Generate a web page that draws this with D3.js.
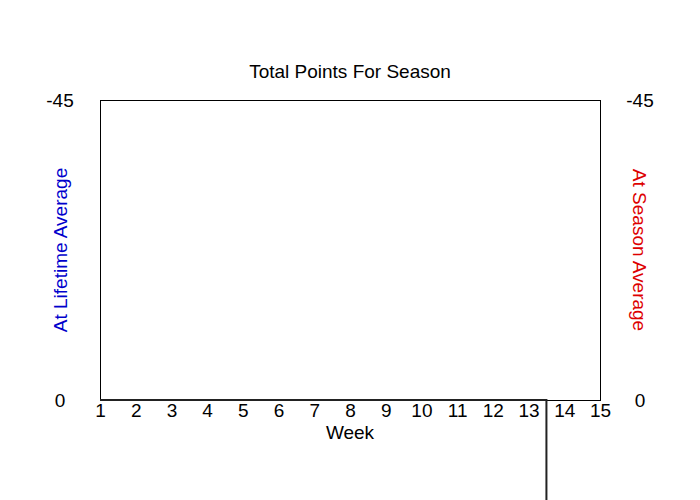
<!DOCTYPE html>
<html>
<head>
<meta charset="utf-8">
<script src="https://cdn.jsdelivr.net/npm/d3@7"></script>
<style>
  body { margin: 0; background: #fff; }
  text { font-family: "Liberation Sans", Arial, sans-serif; }
</style>
</head>
<body>
<script>
// weeks and the season line values
var weeks = [1, 2, 3, 4, 5, 6, 7, 8, 9, 10, 11, 12, 13, 14];
var seasonPoints = [0, 0, 0, 0, 0, 0, 0, 0, 0, 0, 0, 0, 0, 30];
var xTicks = [1, 2, 3, 4, 5, 6, 7, 8, 9, 10, 11, 12, 13, 14, 15];
var yTicks = [-45, 0];

var width = 700, height = 500;
var plotLeft = 100, plotRight = 600, plotTop = 100, plotBottom = 400;
var fontSize = "19px";

var svg = d3.select("body").append("svg")
    .attr("width", width)
    .attr("height", height);

var x = d3.scaleLinear().domain([1, 15]).range([plotLeft, plotRight]);
var y = d3.scaleLinear().domain([-45, 0]).range([plotTop, plotBottom]);

// frame
svg.append("rect")
    .attr("x", plotLeft).attr("y", plotTop)
    .attr("width", plotRight - plotLeft).attr("height", plotBottom - plotTop)
    .attr("fill", "none").attr("stroke", "#000").attr("stroke-width", 1)
    .attr("shape-rendering", "crispEdges");

// title
svg.append("text")
    .attr("x", 350).attr("y", 78)
    .attr("text-anchor", "middle")
    .style("font-size", fontSize)
    .text("Total Points For Season");

// x axis
var xAxis = svg.append("g")
    .attr("transform", "translate(0," + plotBottom + ")")
    .call(d3.axisBottom(x).tickValues(xTicks).tickSize(0).tickPadding(3));
xAxis.select(".domain").remove();
xAxis.selectAll("text")
    .style("font-family", "Liberation Sans, Arial, sans-serif")
    .style("font-size", fontSize)
    .attr("fill", "#000");

svg.append("text")
    .attr("x", 350).attr("y", 439)
    .attr("text-anchor", "middle")
    .style("font-size", fontSize)
    .text("Week");

// left and right y labels
[60, 640].forEach(function (cx) {
    svg.selectAll(null).data(yTicks).enter().append("text")
        .attr("x", cx)
        .attr("y", function (d) { return y(d); })
        .attr("dy", "0.35em")
        .attr("text-anchor", "middle")
        .style("font-size", fontSize)
        .text(function (d) { return d; });
});

svg.append("text")
    .attr("transform", "translate(67,250) rotate(-90)")
    .attr("text-anchor", "middle")
    .attr("fill", "#0000cc")
    .style("font-size", fontSize)
    .text("At Lifetime Average");

svg.append("text")
    .attr("transform", "translate(633,250) rotate(90)")
    .attr("text-anchor", "middle")
    .attr("fill", "#dd0000")
    .style("font-size", fontSize)
    .text("At Season Average");

// season line
var line = d3.line()
    .x(function (d, i) { return x(weeks[i]); })
    .y(function (d) { return y(d); })
    .curve(d3.curveStep);

svg.append("path")
    .datum(seasonPoints)
    .attr("d", line)
    .attr("fill", "none")
    .attr("stroke", "#222")
    .attr("stroke-width", 2);
</script>
</body>
</html>
